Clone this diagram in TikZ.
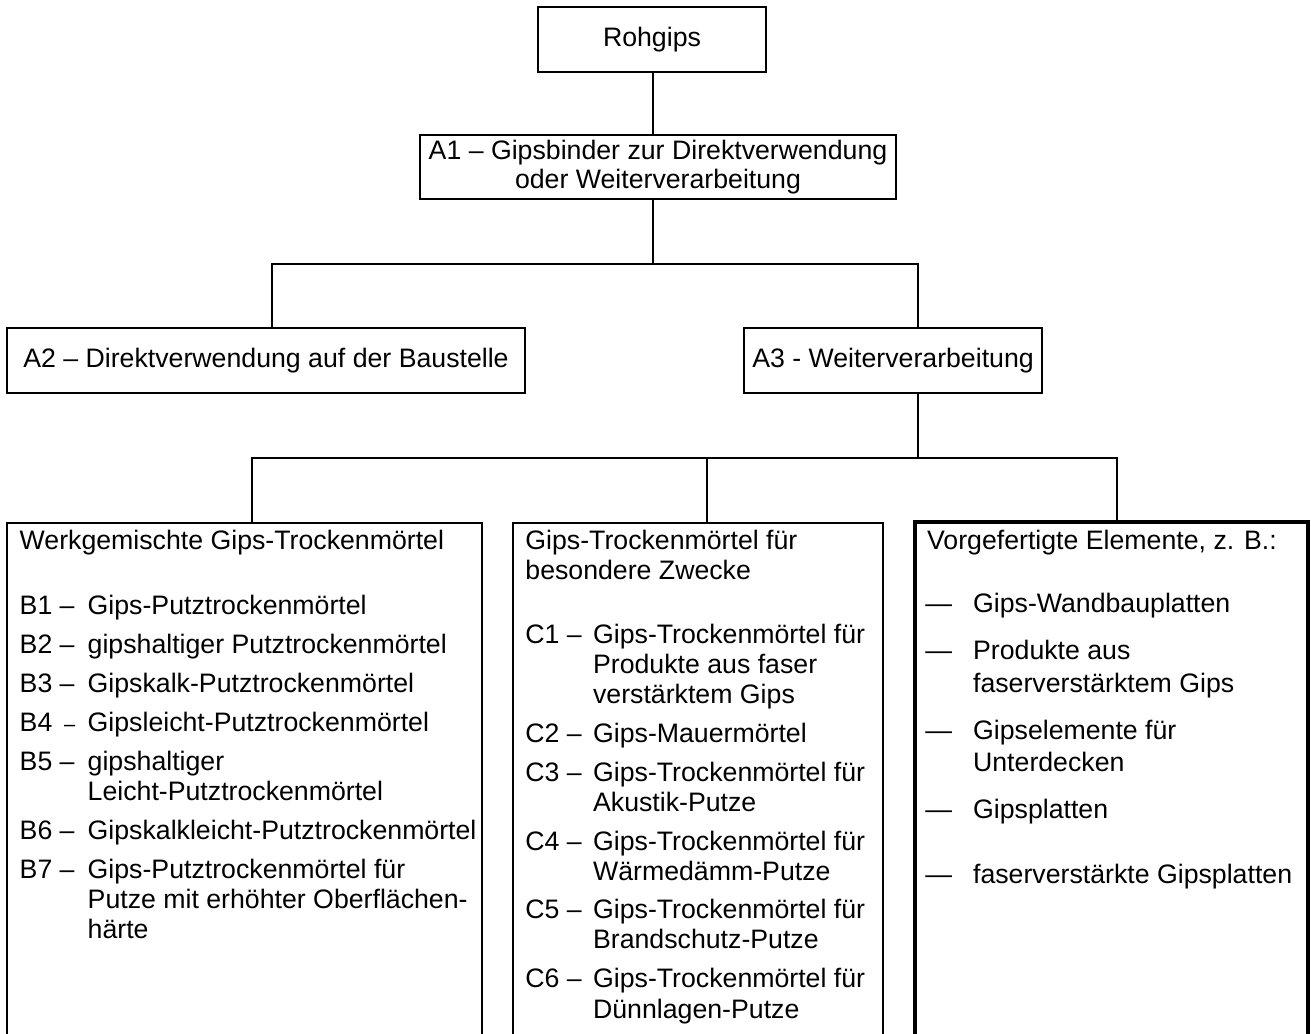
\documentclass[tikz,border=0pt]{standalone}
\usepackage{fontspec}
\setmainfont{Liberation Sans}
\newcommand{\gipsfont}{\fontsize{13.35}{14.5}\selectfont}
\begin{document}
\begin{tikzpicture}[x=0.5pt,y=-0.5pt,
  box/.style={draw, line width=1.1pt, inner sep=0pt, font=\gipsfont, align=center},
  thickbox/.style={draw, line width=2pt, inner sep=0pt},
  conn/.style={line width=1.1pt},
  txt/.style={anchor=base west, inner sep=0pt, font=\gipsfont}]
\useasboundingbox (0,0) rectangle (1311,1033);
\fill[white] (0,0) rectangle (1311,1033);
\clip (0,0) rectangle (1311,1033);

% upper boxes
\node[box, minimum width=114pt, minimum height=32.5pt] (R) at (652,39.5) {Rohgips};
\node[box, minimum width=238pt, minimum height=32pt] (A1) at (658,167)
  {A1 – Gipsbinder zur Direktverwendung\\oder Weiterverarbeitung};
\node[box, minimum width=259pt, minimum height=32.5pt] (A2) at (266,360.5)
  {A2 – Direktverwendung auf der Baustelle};
\node[box, minimum width=149pt, minimum height=32.5pt] (A3) at (893,360.5)
  {A3 - Weiterverarbeitung};

% lower boxes (open at the bottom of the picture)
\node[box, minimum width=237.5pt, minimum height=262pt] (B) at (244.5,785) {};
\node[box, minimum width=185pt, minimum height=262pt] (C) at (698,785) {};
\node[thickbox, minimum width=196.5pt, minimum height=263pt] (D) at (1111.5,785) {};

% connector points
\coordinate (j1) at (653,264);
\coordinate (h1l) at (272,264);
\coordinate (h1r) at (918,264);
\coordinate (j2) at (918,458);
\coordinate (h2l) at (252,458);
\coordinate (h2m) at (707,458);
\coordinate (h2r) at (1117,458);

\draw[conn] (R.south -| j1) -- (A1.north -| j1);
\draw[conn] (A1.south -| j1) -- (j1);
\draw[conn] (A2.north -| h1l) -- (h1l) -- (h1r) -- (A3.north -| h1r);
\draw[conn] (A3.south -| j2) -- (j2);
\draw[conn] (B.north -| h2l) -- (h2l) -- (h2r) -- (D.north -| h2r);
\draw[conn] (h2m) -- (C.north -| h2m);

% box B
\node[txt] (bt) at (19.3,549) {Werkgemischte Gips-Trockenmörtel};
\node[txt] (b1a) at (19.3,614.5) {B1 –};
\node[txt] (b1b) at (87.3,614.5) {Gips-Putztrockenmörtel};
\node[txt] (b2a) at (19.3,653.5) {B2 –};
\node[txt] (b2b) at (87.3,653.5) {gipshaltiger Putztrockenmörtel};
\node[txt] (b3a) at (19.3,692.5) {B3 –};
\node[txt] (b3b) at (87.3,692.5) {Gipskalk-Putztrockenmörtel};
\node[txt] (b4a) at (19.3,731.5) {B4 \,\scalebox{0.75}[0.8]{–}};
\node[txt] (b4b) at (87.3,731.5) {Gipsleicht-Putztrockenmörtel};
\node[txt] (b5a) at (19.3,770.5) {B5 –};
\node[txt] (b5b) at (87.3,770.5) {gipshaltiger};
\node[txt] (b5c) at (87.3,800.5) {Leicht-Putztrockenmörtel};
\node[txt] (b6a) at (19.3,839.5) {B6 –};
\node[txt] (b6b) at (87.3,839.5) {Gipskalkleicht-Putztrockenmörtel};
\node[txt] (b7a) at (19.3,878.5) {B7 –};
\node[txt] (b7b) at (87.3,878.5) {Gips-Putztrockenmörtel für};
\node[txt] (b7c) at (87.3,908.5) {Putze mit erhöhter Oberflächen-};
\node[txt] (b7d) at (87.3,938.5) {härte};

% box C
\node[txt] (ct1) at (525,549) {Gips-Trockenmörtel für};
\node[txt] (ct2) at (525,579.5) {besondere Zwecke};
\node[txt] (c1a) at (525,643.5) {C1 –};
\node[txt] (c1b) at (592.7,643.5) {Gips-Trockenmörtel für};
\node[txt] (c1c) at (592.7,673.5) {Produkte aus faser};
\node[txt] (c1d) at (592.7,703.5) {verstärktem Gips};
\node[txt] (c2a) at (525,742.5) {C2 –};
\node[txt] (c2b) at (592.7,742.5) {Gips-Mauermörtel};
\node[txt] (c3a) at (525,781.5) {C3 –};
\node[txt] (c3b) at (592.7,781.5) {Gips-Trockenmörtel für};
\node[txt] (c3c) at (592.7,811.5) {Akustik-Putze};
\node[txt] (c4a) at (525,850.5) {C4 –};
\node[txt] (c4b) at (592.7,850.5) {Gips-Trockenmörtel für};
\node[txt] (c4c) at (592.7,880.5) {Wärmedämm-Putze};
\node[txt] (c5a) at (525,918.5) {C5 –};
\node[txt] (c5b) at (592.7,918.5) {Gips-Trockenmörtel für};
\node[txt] (c5c) at (592.7,948.5) {Brandschutz-Putze};
\node[txt] (c6a) at (525,987) {C6 –};
\node[txt] (c6b) at (592.7,987) {Gips-Trockenmörtel für};
\node[txt] (c6c) at (592.7,1018) {Dünnlagen-Putze};

% box D
\node[txt] (dt) at (926.7,549.5) {Vorgefertigte Elemente, z. B.:};
\node[txt] (d1a) at (925,612.5) {—};
\node[txt] (d1b) at (972.7,612.5) {Gips-Wandbauplatten};
\node[txt] (d2a) at (925,659.5) {—};
\node[txt] (d2b) at (972.7,659.5) {Produkte aus};
\node[txt] (d2c) at (972.7,692.5) {faserverstärktem Gips};
\node[txt] (d3a) at (925,739.5) {—};
\node[txt] (d3b) at (972.7,739.5) {Gipselemente für};
\node[txt] (d3c) at (972.7,771.5) {Unterdecken};
\node[txt] (d4a) at (925,818) {—};
\node[txt] (d4b) at (972.7,818) {Gipsplatten};
\node[txt] (d5a) at (925,883) {—};
\node[txt] (d5b) at (972.7,883) {faserverstärkte Gipsplatten};
\end{tikzpicture}
\end{document}
